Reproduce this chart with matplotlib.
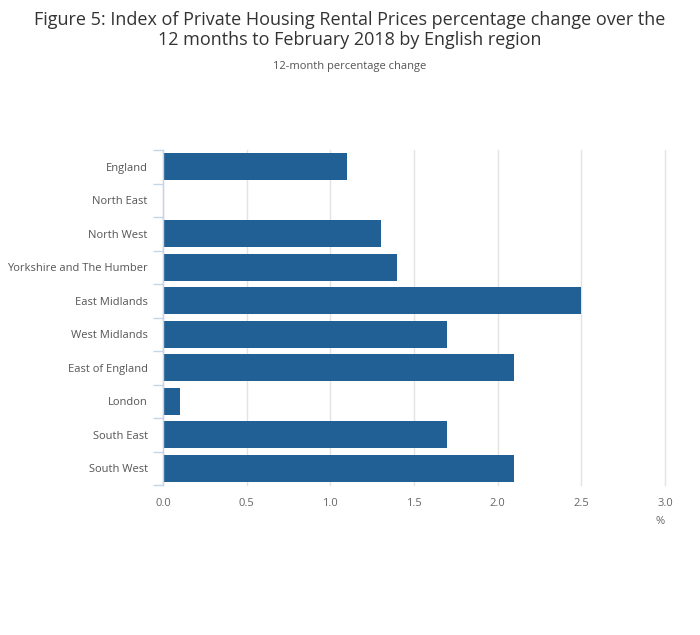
import matplotlib
matplotlib.use("Agg")
import matplotlib.pyplot as plt
import numpy as np

categories = ["England", "North East", "North West", "Yorkshire and The Humber",
              "East Midlands", "West Midlands", "East of England", "London",
              "South East", "South West"]
values = [1.1, 0.0, 1.3, 1.4, 2.5, 1.7, 2.1, 0.1, 1.7, 2.1]
xticks = [0.0, 0.5, 1.0, 1.5, 2.0, 2.5, 3.0]
xticklabels = ["0.0", "0.5", "1.0", "1.5", "2.0", "2.5", "3.0"]

plt.rcParams['font.family'] = ['Open Sans', 'DejaVu Sans']

fig = plt.figure(figsize=(7, 6.35), dpi=100)
ax = fig.add_axes([163/700, 1-485/635, (665-163)/700, (485-150)/635])

y = np.arange(len(categories))
ax.barh(y, values, height=0.8, color="#206095", zorder=3)
ax.set_ylim(len(categories)-0.5, -0.5)
ax.set_xlim(0, 3.0)

ax.set_yticks(y)
ax.set_yticklabels(categories, fontsize=8, color="#555555")
ax.set_yticks(np.arange(-0.5, len(categories), 1), minor=True)
ax.tick_params(axis='y', which='major', length=0, pad=11)
ax.tick_params(axis='y', which='minor', length=7, width=1, color="#c6d4ea")

ax.set_xticks(xticks)
ax.set_xticklabels(xticklabels, fontsize=8, color="#666666")
ax.tick_params(axis='x', which='major', length=0, pad=9)
ax.grid(axis='x', color="#e3e3e3", linewidth=1, zorder=0, clip_on=False)

for s in ["top", "right", "bottom"]:
    ax.spines[s].set_visible(False)
ax.spines["left"].set_color("#c6d4ea")
ax.spines["left"].set_linewidth(1)
ax.spines["left"].set_zorder(4)

fig.text(0.5, 1-30/635, "Figure 5: Index of Private Housing Rental Prices percentage change over the\n12 months to February 2018 by English region",
         ha='center', va='center', fontsize=13, color="#333333", linespacing=1.2)
fig.text(0.5, 1-67/635, "12-month percentage change", ha='center', va='center', fontsize=8, color="#555555")
fig.text(660/700, 1-521/635, "%", ha='center', va='center', fontsize=8, color="#666666")

fig.savefig("out.png", dpi=100)
